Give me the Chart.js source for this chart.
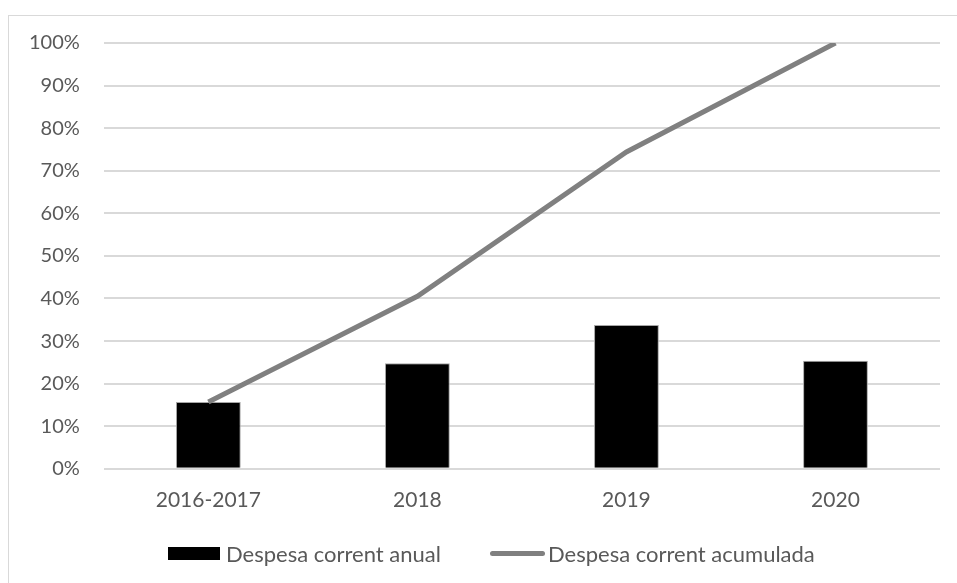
<!DOCTYPE html>
<html>
<head>
<meta charset="utf-8">
<script src="https://cdn.jsdelivr.net/npm/chart.js@4"></script>
<style>
  body { margin: 0; background: #fff; overflow: hidden; }
  #wrap { position: relative; width: 957px; height: 583px; overflow: hidden; }
  #frame { position: absolute; left: 8px; top: 15px; width: 960px; height: 580px; border: 1px solid #d9d9d9; box-sizing: border-box; }
  #myChart { position: absolute; left: 0; top: 0; }
  .legend { position: absolute; top: 540px; height: 26px; font: 22px Lato, sans-serif; color: #595959; display: flex; align-items: center; white-space: nowrap; }
  .swatch { display: inline-block; }
</style>
</head>
<body>
<div id="wrap">
  <div id="frame"></div>
  <canvas id="myChart" width="957" height="583"></canvas>
  <div class="legend" style="left:168px"><span class="swatch" style="width:52px;height:13px;background:#000;margin-right:6px"></span><span id="lg0"></span></div>
  <div class="legend" style="left:490px"><span class="swatch" style="width:55px;height:5px;border-radius:3px;background:#808080;margin-right:3px"></span><span id="lg1"></span></div>
</div>
<script>
const categories = ['2016-2017', '2018', '2019', '2020'];
const annualSpend = [15.7, 24.8, 33.8, 25.4];
const cumulativeSpend = [15.7, 40.5, 74.4, 100];
const seriesNames = ['Despesa corrent anual', 'Despesa corrent acumulada'];

document.getElementById('lg0').innerText = seriesNames[0];
document.getElementById('lg1').innerText = seriesNames[1];

const ctx = document.getElementById('myChart');

new Chart(ctx, {
  type: 'bar',
  data: {
    labels: categories,
    datasets: [{
      type: 'line',
      label: seriesNames[1],
      data: cumulativeSpend,
      borderColor: '#808080',
      borderWidth: 5,
      pointRadius: 0,
      tension: 0,
      order: 0
    }, {
      label: seriesNames[0],
      data: annualSpend,
      backgroundColor: '#000000',
      borderColor: '#a6a6a6',
      borderWidth: 1,
      categoryPercentage: 0.62,
      barPercentage: 0.5,
      order: 1
    }]
  },
  options: {
    responsive: false,
    animation: false,
    layout: { padding: { left: 5, right: 17, top: 43, bottom: 59 } },
    plugins: {
      legend: { display: false },
      tooltip: { enabled: false }
    },
    scales: {
      x: {
        grid: { display: false },
        border: { display: false },
        ticks: { color: '#595959', font: { family: 'Lato, sans-serif', size: 21 }, padding: 11 }
      },
      y: {
        min: 0,
        max: 100,
        grid: { color: '#d9d9d9', lineWidth: 2, drawTicks: false },
        border: { display: false },
        ticks: {
          stepSize: 10,
          color: '#595959',
          font: { family: 'Lato, sans-serif', size: 20 },
          padding: 24,
          callback: v => v + '%'
        }
      }
    }
  }
});
</script>
</body>
</html>
